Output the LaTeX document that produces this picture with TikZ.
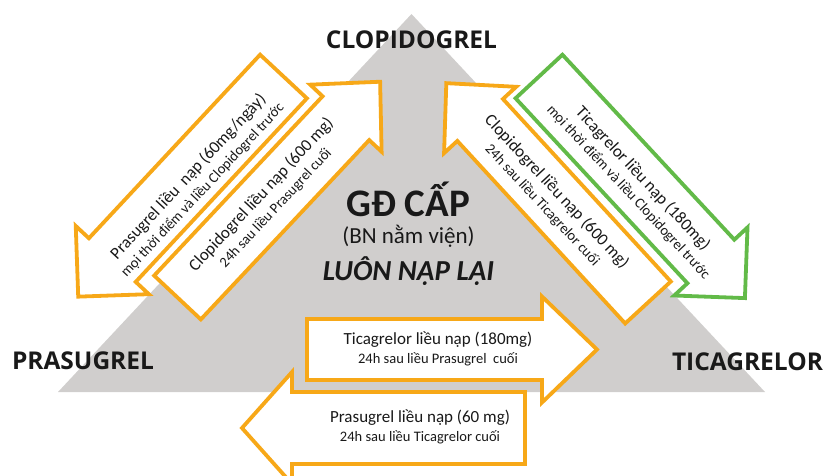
\documentclass[tikz,border=0pt]{standalone}
\usepackage{fontspec}
\setmainfont{Carlito}
\newfontfamily\headfont{Open Sans}
\definecolor{triGray}{RGB}{208,206,205}
\definecolor{arrOrange}{RGB}{247,168,24}
\definecolor{arrGreen}{RGB}{98,186,72}
\definecolor{txtDark}{RGB}{25,25,25}
\newcommand{\barrow}[8]{%
  \begin{scope}[shift={(#2,#3)},rotate=#4]
    \draw[#1] (0,-#6) -- ({#5-#8},-#6) -- ({#5-#8},-#7) -- (#5,0) -- ({#5-#8},#7) -- ({#5-#8},#6) -- (0,#6) -- cycle;
  \end{scope}}
\newcommand{\sm}{\fontsize{14.5}{16}\selectfont}
\begin{document}
\begin{tikzpicture}[x=1pt,y=-1pt,
  orangearr/.style={draw=arrOrange,fill=white,line width=3.8pt,line join=miter},
  greenarr/.style={draw=arrGreen,fill=white,line width=3.8pt,line join=miter},
  corner/.style={font=\headfont\bfseries\fontsize{24.5}{26}\selectfont,text=txtDark,inner sep=0pt},
  arrtext/.style={align=center,inner sep=0pt,text=txtDark,font=\fontsize{17}{19}\selectfont}
]
\clip (0,0) rectangle (827,475);
\fill[triGray] (58,392) -- (411.5,14) -- (765,392) -- cycle;

% diagonal arrows
\barrow{orangearr}{283.5}{76.5}{227}{301}{32}{50}{50}
\barrow{orangearr}{177.5}{297.5}{46.8}{296}{32}{49}{50}
\barrow{greenarr}{539}{76.5}{-47.1}{302.5}{32}{50}{50}
\barrow{orangearr}{648}{302.5}{132.6}{298}{31}{49}{50}
% horizontal arrows
\barrow{orangearr}{307}{349.5}{0}{290}{30.5}{53}{55}
\barrow{orangearr}{525}{428}{180}{283}{36}{56}{50}

% corner labels
\node[corner] (clop) at (411.5,40) {CLOPIDOGREL};
\node[corner] (pras) at (83,361) {PRASUGREL};
\node[corner] (tica) at (747.5,361.5) {TICAGRELOR};

% centre
\node[inner sep=0pt,text=txtDark,font=\bfseries\fontsize{39}{42}\selectfont] (gd) at (408,199) {GĐ CẤP};
\node[inner sep=0pt,text=txtDark,font=\fontsize{23}{26}\selectfont] (bn) at (408.5,236) {(BN nằm viện)};
\node[inner sep=0pt,text=txtDark,font=\bfseries\itshape\fontsize{29}{32}\selectfont] (luon) at (408.5,271) {LUÔN NẠP LẠI};

% arrow texts
\node[arrtext,rotate=47] (t1) at (195,183) {Prasugrel liều\ \ nạp (60mg/ngày)\\{\sm mọi thời điểm và liều Clopidogrel trước}};
\node[arrtext,rotate=47] (t2) at (268,201) {Clopidogrel liều nạp (600 mg)\\{\sm 24h sau liều Prasugrel cuối}};
\node[arrtext,rotate=-47] (t3) at (636,185) {Ticagrelor liều nạp (180mg)\\{\sm mọi thời điểm và liều Clopidogrel trước}};
\node[arrtext,rotate=-47] (t4) at (550,198) {Clopidogrel liều nạp (600 mg)\\{\sm 24h sau liều Ticagrelor cuối}};
\node[arrtext] (t5) at (438,349) {Ticagrelor liều nạp (180mg)\\{\sm 24h sau liều Prasugrel\ \ cuối}};
\node[arrtext] (t6) at (420,427) {Prasugrel liều nạp (60 mg)\\{\sm 24h sau liều Ticagrelor cuối}};
\end{tikzpicture}
\end{document}
